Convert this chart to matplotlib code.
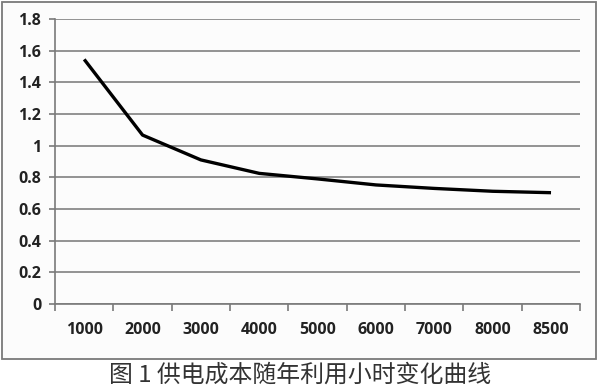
import matplotlib
matplotlib.use("Agg")
import matplotlib.pyplot as plt
from matplotlib.patches import Rectangle
import numpy as np

categories = ["1000", "2000", "3000", "4000", "5000", "6000", "7000", "8000", "8500"]
cost = [1.545, 1.067, 0.91, 0.825, 0.79, 0.752, 0.73, 0.712, 0.703]
yticks = [0, 0.2, 0.4, 0.6, 0.8, 1, 1.2, 1.4, 1.6, 1.8]
ytick_labels = ["0", "0.2", "0.4", "0.6", "0.8", "1", "1.2", "1.4", "1.6", "1.8"]
caption = "图 1 供电成本随年利用小时变化曲线"

fig = plt.figure(figsize=(6.0, 3.91), dpi=100)
fig.patch.set_facecolor("white")

# outer chart frame
frame = Rectangle((0.004, 0.082), 0.99, 0.913, transform=fig.transFigure,
                  facecolor="#fcfcfc", edgecolor="#7a7a7a", linewidth=1.3, zorder=-10)
fig.patches.append(frame)

ax = fig.add_axes([0.0917, 0.2225, 0.8753, 0.7289])
ax.set_zorder(5)
ax.set_facecolor("none")
x = np.arange(len(categories))
ax.plot(x, cost, color="black", linewidth=2.4, solid_capstyle="butt", zorder=3)

ax.set_xlim(-0.5, len(categories) - 0.5)
ax.set_ylim(0, 1.8)
ax.set_yticks(yticks)
ax.set_yticklabels(ytick_labels)
ax.set_xticks(x)
ax.set_xticklabels(categories)
ax.set_xticks(np.arange(-0.5, len(categories)), minor=True)

for yv in yticks:
    ax.axhline(yv, color="#8a8a8a", linewidth=1.3, zorder=1)

for s in ["top", "right"]:
    ax.spines[s].set_visible(False)
ax.spines["left"].set_color("#7a7a7a")
ax.spines["left"].set_linewidth(1.2)
ax.spines["bottom"].set_color("#7a7a7a")
ax.spines["bottom"].set_linewidth(1.2)

ax.tick_params(axis="y", length=4, width=1.2, color="#7a7a7a", pad=6,
               labelsize=11.5, labelcolor="#222222")
ax.tick_params(axis="x", which="major", length=0, pad=13,
               labelsize=11.5, labelcolor="#222222")
ax.tick_params(axis="x", which="minor", length=5, width=1.2, color="#7a7a7a")
for lab in ax.get_xticklabels() + ax.get_yticklabels():
    lab.set_fontfamily(["Open Sans", "DejaVu Sans"])
    lab.set_fontweight("bold")

fig.text(0.5, 0.041, caption, ha="center", va="center", fontsize=17.2,
         color="#333333", family=["Noto Sans CJK SC", "DejaVu Sans"])

fig.savefig("out.png", dpi=100, facecolor="white")
